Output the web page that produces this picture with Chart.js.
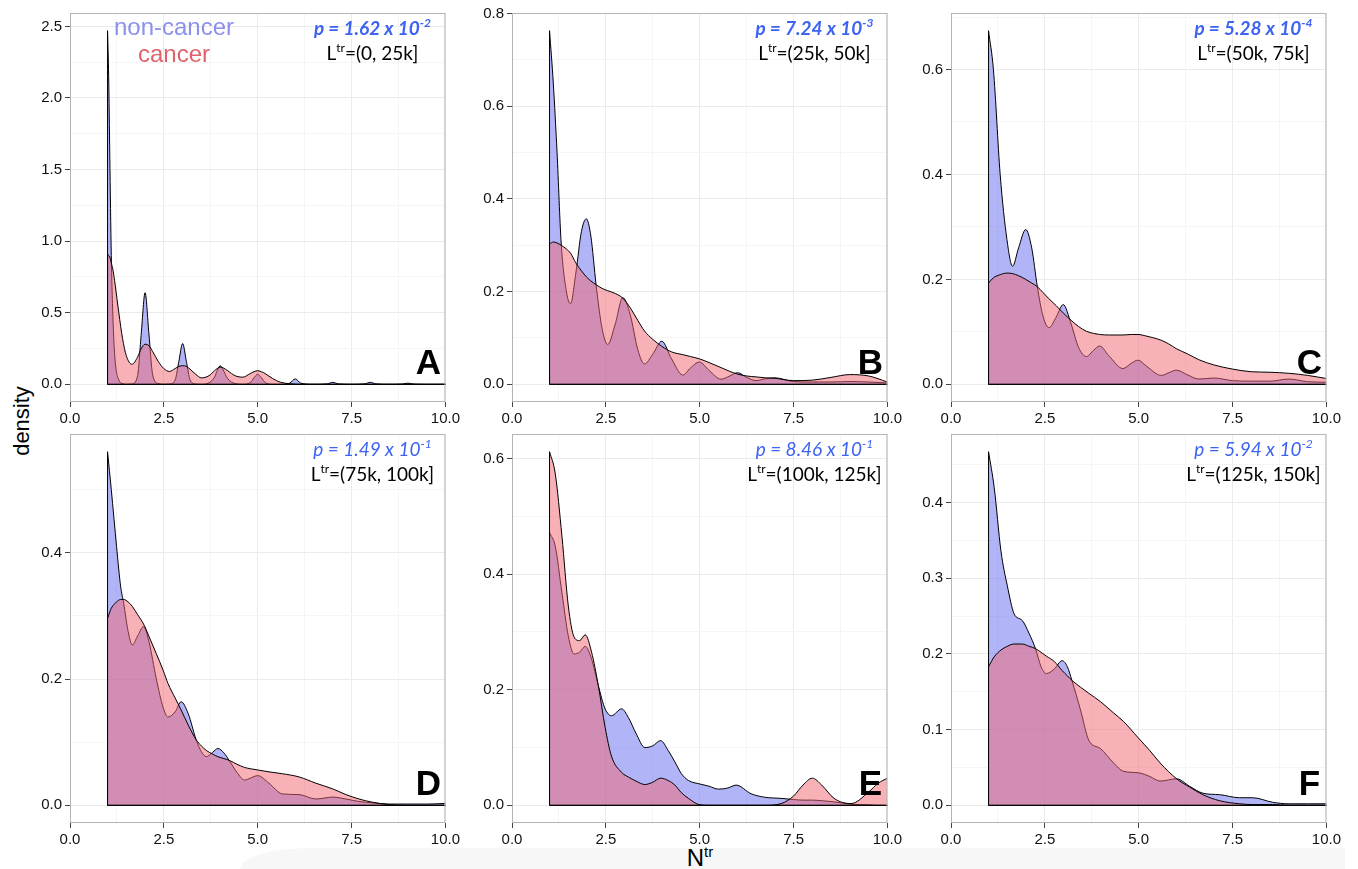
<!DOCTYPE html>
<html>
<head>
<meta charset="utf-8">
<script src="https://cdn.jsdelivr.net/npm/chart.js@4.4.1/dist/chart.umd.min.js"></script>
<style>
    body { margin: 0; width: 1358px; height: 869px; background: #fff; position: relative; overflow: hidden; font-family: "Liberation Sans", Arial, sans-serif; }
    canvas { position: absolute; }
    #band { position: absolute; left: 240px; top: 848px; width: 1105px; height: 21px; background: #f7f7f7; border-top-left-radius: 70px 21px; }
    #ylab { position: absolute; left: 22px; top: 421px; transform: translate(-50%, -50%) rotate(-90deg); font-size: 22px; color: #000; white-space: nowrap; }
    #xlab { position: absolute; left: 700px; top: 843px; transform: translateX(-50%); font-size: 24px; color: #000; white-space: nowrap; }
    #xlab sup { font-size: 15px; vertical-align: 9px; }
</style>
</head>
<body>
<div id="band"></div>
<div id="ylab">density</div>
<div id="xlab">N<sup>tr</sup></div>

<script>
// panel labels
const panelLetters = ['A', 'B', 'C', 'D', 'E', 'F'];
const lengthBins = ['(0, 25k]', '(25k, 50k]', '(50k, 75k]', '(75k, 100k]', '(100k, 125k]', '(125k, 150k]'];
const pMantissa = ['1.62', '7.24', '5.28', '1.49', '8.46', '5.94'];
const pExponent = ['-2', '-3', '-4', '-1', '-1', '-2'];
const seriesNames = ['non-cancer', 'cancer'];

// axis ticks
const xTicks = [0, 2.5, 5, 7.5, 10];
const yTicksA = [0, 0.5, 1, 1.5, 2, 2.5];
const yTicksB = [0, 0.2, 0.4, 0.6, 0.8];
const yTicksC = [0, 0.2, 0.4, 0.6];
const yTicksD = [0, 0.2, 0.4];
const yTicksE = [0, 0.2, 0.4, 0.6];
const yTicksF = [0, 0.1, 0.2, 0.3, 0.4];

// density curves
const xA = [1, 1.03, 1.06, 1.1, 1.15, 1.2, 1.3, 1.4, 1.5, 1.65, 1.8, 1.9, 2, 2.1, 2.2, 2.35, 2.5, 2.65, 2.8, 2.9, 3, 3.1, 3.2, 3.35, 3.5, 3.7, 3.85, 3.92, 4, 4.08, 4.2, 4.4, 4.6, 4.8, 4.9, 5, 5.1, 5.2, 5.4, 5.6, 5.85, 6, 6.15, 6.5, 6.85, 7, 7.15, 7.5, 7.85, 8, 8.15, 8.5, 8.85, 9, 9.15, 9.5, 10];
const nonCancerA = [2.47, 2.15, 1.6, 0.9, 0.42, 0.17, 0.03, 0.005, 0, 0.002, 0.06, 0.36, 0.64, 0.36, 0.07, 0.005, 0, 0.002, 0.03, 0.16, 0.285, 0.16, 0.03, 0.002, 0, 0.01, 0.05, 0.095, 0.13, 0.1, 0.04, 0.005, 0, 0.012, 0.045, 0.07, 0.045, 0.012, 0, 0, 0.008, 0.038, 0.008, 0, 0.003, 0.014, 0.003, 0, 0.003, 0.014, 0.003, 0, 0.002, 0.008, 0.002, 0, 0];
const cancerA = [0.91, 0.9, 0.89, 0.85, 0.79, 0.7, 0.5, 0.32, 0.2, 0.14, 0.19, 0.25, 0.28, 0.27, 0.23, 0.16, 0.11, 0.09, 0.11, 0.125, 0.13, 0.125, 0.105, 0.07, 0.045, 0.06, 0.095, 0.11, 0.12, 0.115, 0.095, 0.06, 0.05, 0.075, 0.088, 0.095, 0.088, 0.075, 0.04, 0.015, 0.004, 0.001, 0, 0, 0, 0, 0, 0, 0, 0, 0, 0, 0, 0, 0, 0, 0];

const xB = [1, 1.1, 1.2, 1.31, 1.45, 1.56, 1.7, 1.85, 1.98, 2.1, 2.24, 2.4, 2.55, 2.75, 2.95, 3.15, 3.35, 3.53, 3.75, 3.99, 4.25, 4.55, 4.75, 4.99, 5.25, 5.57, 5.8, 6.01, 6.25, 6.5, 6.75, 7, 7.5, 8, 8.5, 9, 9.5, 10];
const nonCancerB = [0.763, 0.65, 0.5, 0.305, 0.2, 0.174, 0.24, 0.33, 0.357, 0.32, 0.215, 0.12, 0.086, 0.13, 0.187, 0.15, 0.075, 0.044, 0.065, 0.093, 0.055, 0.02, 0.035, 0.048, 0.03, 0.011, 0.018, 0.025, 0.015, 0.008, 0.012, 0.014, 0.006, 0.005, 0.005, 0.006, 0.005, 0.003];
const cancerB = [0.303, 0.307, 0.305, 0.3, 0.292, 0.283, 0.262, 0.245, 0.232, 0.223, 0.215, 0.207, 0.202, 0.196, 0.186, 0.165, 0.138, 0.115, 0.097, 0.082, 0.07, 0.064, 0.06, 0.055, 0.047, 0.036, 0.028, 0.022, 0.018, 0.016, 0.014, 0.013, 0.008, 0.009, 0.015, 0.021, 0.018, 0.005];

const xC = [1, 1.13, 1.31, 1.49, 1.64, 1.8, 1.99, 2.15, 2.3, 2.45, 2.61, 2.8, 2.99, 3.2, 3.4, 3.61, 3.8, 3.96, 4.2, 4.58, 4.8, 4.98, 5.2, 5.6, 5.8, 6, 6.3, 6.6, 7, 7.5, 8, 8.5, 9, 9.5, 10];
const nonCancerC = [0.674, 0.6, 0.4, 0.276, 0.225, 0.26, 0.295, 0.26, 0.186, 0.13, 0.108, 0.128, 0.152, 0.115, 0.07, 0.053, 0.065, 0.073, 0.055, 0.03, 0.04, 0.046, 0.035, 0.017, 0.022, 0.027, 0.018, 0.01, 0.012, 0.007, 0.006, 0.006, 0.01, 0.005, 0.004];
const cancerC = [0.193, 0.203, 0.209, 0.212, 0.211, 0.207, 0.2, 0.193, 0.186, 0.175, 0.163, 0.15, 0.136, 0.122, 0.11, 0.101, 0.097, 0.095, 0.094, 0.094, 0.095, 0.095, 0.092, 0.084, 0.077, 0.068, 0.058, 0.047, 0.037, 0.029, 0.024, 0.023, 0.021, 0.017, 0.011];

const xD = [1, 1.1, 1.24, 1.35, 1.43, 1.55, 1.66, 1.8, 1.96, 2.1, 2.3, 2.48, 2.61, 2.8, 2.96, 3.15, 3.36, 3.5, 3.63, 3.8, 3.94, 4.1, 4.25, 4.45, 4.65, 4.8, 5, 5.3, 5.66, 6.1, 6.55, 7, 7.35, 7.7, 8.05, 8.5, 9, 9.5, 10];
const nonCancerD = [0.56, 0.5, 0.41, 0.346, 0.32, 0.275, 0.254, 0.268, 0.283, 0.26, 0.2, 0.155, 0.14, 0.148, 0.164, 0.145, 0.104, 0.085, 0.077, 0.084, 0.09, 0.083, 0.07, 0.052, 0.04, 0.043, 0.047, 0.035, 0.018, 0.017, 0.01, 0.013, 0.01, 0.006, 0.004, 0.002, 0.002, 0.002, 0.003];
const cancerD = [0.296, 0.312, 0.322, 0.326, 0.326, 0.322, 0.315, 0.302, 0.287, 0.268, 0.24, 0.214, 0.193, 0.17, 0.151, 0.127, 0.104, 0.094, 0.087, 0.081, 0.077, 0.074, 0.071, 0.065, 0.06, 0.058, 0.056, 0.053, 0.05, 0.045, 0.035, 0.026, 0.017, 0.01, 0.005, 0.001, 0, 0, 0];

const xE = [1, 1.15, 1.33, 1.5, 1.65, 1.8, 1.95, 2.12, 2.3, 2.48, 2.65, 2.92, 3.1, 3.3, 3.54, 3.75, 3.96, 4.16, 4.34, 4.51, 4.7, 5, 5.25, 5.5, 5.75, 5.97, 6.37, 6.73, 7.17, 7.5, 7.75, 8, 8.25, 8.58, 9.03, 9.5, 9.75, 10];
const nonCancerE = [0.472, 0.449, 0.368, 0.293, 0.262, 0.265, 0.275, 0.253, 0.207, 0.167, 0.155, 0.167, 0.152, 0.125, 0.1, 0.103, 0.112, 0.095, 0.075, 0.055, 0.043, 0.037, 0.033, 0.028, 0.03, 0.035, 0.02, 0.014, 0.012, 0.01, 0.009, 0.009, 0.008, 0.006, 0.002, 0.001, 0, 0];
const cancerE = [0.612, 0.575, 0.466, 0.345, 0.292, 0.285, 0.295, 0.265, 0.207, 0.135, 0.085, 0.057, 0.049, 0.042, 0.036, 0.04, 0.047, 0.043, 0.035, 0.022, 0.012, 0.001, 0, 0, 0, 0, 0, 0, 0.003, 0.016, 0.035, 0.047, 0.035, 0.012, 0.003, 0.023, 0.038, 0.047];

const xF = [1, 1.15, 1.33, 1.5, 1.68, 1.9, 2.08, 2.25, 2.4, 2.54, 2.75, 2.96, 3.1, 3.22, 3.45, 3.67, 3.98, 4.33, 4.59, 4.99, 5.3, 5.57, 6.01, 6.36, 6.71, 7.16, 7.69, 8.04, 8.57, 9, 9.5, 10];
const nonCancerF = [0.467, 0.42, 0.336, 0.29, 0.253, 0.244, 0.227, 0.207, 0.183, 0.174, 0.18, 0.191, 0.183, 0.165, 0.126, 0.086, 0.075, 0.056, 0.045, 0.043, 0.038, 0.032, 0.035, 0.025, 0.016, 0.014, 0.01, 0.01, 0.004, 0.002, 0.002, 0.002];
const cancerF = [0.183, 0.196, 0.205, 0.21, 0.213, 0.213, 0.21, 0.207, 0.202, 0.197, 0.19, 0.178, 0.171, 0.165, 0.156, 0.148, 0.137, 0.122, 0.111, 0.089, 0.072, 0.056, 0.035, 0.024, 0.014, 0.006, 0.002, 0.001, 0.001, 0, 0, 0];

const panelX = [xA, xB, xC, xD, xE, xF];
const panelNonCancer = [nonCancerA, nonCancerB, nonCancerC, nonCancerD, nonCancerE, nonCancerF];
const panelCancer = [cancerA, cancerB, cancerC, cancerD, cancerE, cancerF];
const panelYTicks = [yTicksA, yTicksB, yTicksC, yTicksD, yTicksE, yTicksF];

// 패널 배치 (픽셀)
const COL_LEFT = [70, 512, 951], ROW_TOP = [13, 434];
const PANEL_W = 377, PANEL_H = 389;
const Y_AXIS_W = 45, X_AXIS_H = 30, PAD_TOP = 12, PAD_RIGHT = 16;

const NON_CANCER_FILL = 'rgba(100,108,240,0.5)';
const CANCER_FILL = 'rgba(241,102,112,0.5)';
const TICK_FONT = { family: '"Liberation Sans", Arial, sans-serif', size: 15 };

// major ticks + the half-way minor grid lines
function withMinors(major, max) {
    const step = major[1] - major[0];
    const out = [];
    major.forEach(v => {
        out.push(v);
        if (v + step / 2 <= max) out.push(v + step / 2);
    });
    return out;
}

function drawParts(ctx, parts, cx, baseline) {
    let total = 0;
    parts.forEach(p => { ctx.font = p.font; p.w = ctx.measureText(p.text).width; total += p.w; });
    let xPos = cx - total / 2;
    parts.forEach(p => {
        ctx.font = p.font;
        ctx.fillText(p.text, xPos, baseline + (p.dy || 0));
        xPos += p.w;
    });
}

const panelDecor = {
    id: 'panelDecor',
    afterDatasetsDraw(chart, args, o) {
        const { ctx, chartArea: a, scales: { y } } = chart;
        const y0 = y.getPixelForValue(0);
        ctx.save();
        // ggplot 밀도 다각형의 왼쪽 세로선과 바닥선
        ctx.strokeStyle = '#000';
        ctx.lineWidth = 1;
        chart.data.datasets.forEach((ds, i) => {
            const pts = chart.getDatasetMeta(i).data;
            ctx.beginPath();
            ctx.moveTo(pts[0].x, pts[0].y);
            ctx.lineTo(pts[0].x, y0);
            ctx.lineTo(pts[pts.length - 1].x, y0);
            ctx.stroke();
        });
        ctx.strokeStyle = '#b4b4b4';
        ctx.strokeRect(a.left + 0.5, a.top + 0.5, a.width - 1, a.height - 1);

        ctx.textAlign = 'left';
        ctx.textBaseline = 'alphabetic';
        const cx = a.right - 73;
        const pWeight = o.index < 3 ? 'bold ' : '';
        ctx.fillStyle = '#3d63f2';
        drawParts(ctx, [
            { text: 'p = ' + pMantissa[o.index] + ' x 10', font: 'italic ' + pWeight + '19px Lato' },
            { text: pExponent[o.index], font: 'italic ' + pWeight + '12px Lato', dy: -8 },
        ], cx, a.top + 22);
        ctx.fillStyle = '#000';
        drawParts(ctx, [
            { text: 'L', font: '19px Lato' },
            { text: 'tr', font: '12px Lato', dy: -8 },
            { text: '=' + lengthBins[o.index], font: '19px Lato' },
        ], cx, a.top + 47);

        ctx.textAlign = 'center';
        ctx.font = 'bold 35px "Liberation Sans", Arial, sans-serif';
        ctx.fillText(panelLetters[o.index], a.right - 17, y0 - 10);

        if (o.index === 0) {
            ctx.font = '24px "Liberation Sans", Arial, sans-serif';
            ctx.fillStyle = '#8b90ea';
            ctx.fillText(seriesNames[0], a.left + 104, a.top + 22);
            ctx.fillStyle = '#e0636b';
            ctx.fillText(seriesNames[1], a.left + 104, a.top + 49);
        }
        ctx.restore();
    },
};

function createPanel(index) {
    const col = index % 3, row = Math.floor(index / 3);
    const canvas = document.createElement('canvas');
    canvas.width = Y_AXIS_W + PANEL_W + PAD_RIGHT;
    canvas.height = PAD_TOP + PANEL_H + X_AXIS_H;
    canvas.style.left = (COL_LEFT[col] - Y_AXIS_W) + 'px';
    canvas.style.top = (ROW_TOP[row] - PAD_TOP) + 'px';
    document.body.appendChild(canvas);

    const xs = panelX[index];
    const nonCancer = panelNonCancer[index], cancer = panelCancer[index];
    const yTicks = panelYTicks[index];
    const peak = Math.max(...nonCancer, ...cancer);
    const yMin = -0.05 * peak, yMax = 1.05 * peak;
    const yGrid = withMinors(yTicks, yMax);
    const xGrid = withMinors(xTicks, 10);

    const dataset = {
        borderColor: '#000',
        borderWidth: 1,
        fill: 'origin',
        pointRadius: 0,
        cubicInterpolationMode: 'monotone',
    };
    const isMajor = (list, c) => c.tick && list.some(v => Math.abs(v - c.tick.value) < 1e-9);

    return new Chart(canvas, {
        type: 'line',
        data: {
            datasets: [
                { ...dataset, label: seriesNames[1], data: xs.map((x, i) => ({ x, y: cancer[i] })), backgroundColor: CANCER_FILL },
                { ...dataset, label: seriesNames[0], data: xs.map((x, i) => ({ x, y: nonCancer[i] })), backgroundColor: NON_CANCER_FILL },
            ],
        },
        options: {
            responsive: false,
            animation: false,
            events: [],
            layout: { padding: { top: PAD_TOP, right: PAD_RIGHT, left: 0, bottom: 0 } },
            plugins: {
                legend: { display: false },
                tooltip: { enabled: false },
                panelDecor: { index },
            },
            scales: {
                x: {
                    type: 'linear', min: 0, max: 10,
                    afterBuildTicks: s => { s.ticks = xGrid.map(v => ({ value: v })); },
                    afterFit: s => { s.height = X_AXIS_H; },
                    border: { display: false },
                    grid: {
                        color: c => isMajor(xTicks, c) ? '#ebebeb' : '#f5f5f5',
                        tickColor: c => isMajor(xTicks, c) ? '#444' : 'rgba(0,0,0,0)',
                        tickLength: 5,
                    },
                    ticks: {
                        autoSkip: false, maxRotation: 0, padding: 3, color: '#111', font: TICK_FONT,
                        callback: v => xTicks.includes(v) ? v.toFixed(1) : '',
                    },
                },
                y: {
                    type: 'linear', min: yMin, max: yMax,
                    afterBuildTicks: s => { s.ticks = yGrid.map(v => ({ value: v })); },
                    afterFit: s => { s.width = Y_AXIS_W; },
                    border: { display: false },
                    grid: {
                        color: c => isMajor(yTicks, c) ? '#ebebeb' : '#f5f5f5',
                        tickColor: c => isMajor(yTicks, c) ? '#444' : 'rgba(0,0,0,0)',
                        tickLength: 5,
                    },
                    ticks: {
                        autoSkip: false, padding: 3, color: '#111', font: TICK_FONT,
                        callback: v => yTicks.some(t => Math.abs(t - v) < 1e-9) ? v.toFixed(1) : '',
                    },
                },
            },
        },
        plugins: [panelDecor],
    });
}

document.addEventListener('DOMContentLoaded', () => {
    for (let i = 0; i < 6; i++) createPanel(i);
});
</script>
</body>
</html>
